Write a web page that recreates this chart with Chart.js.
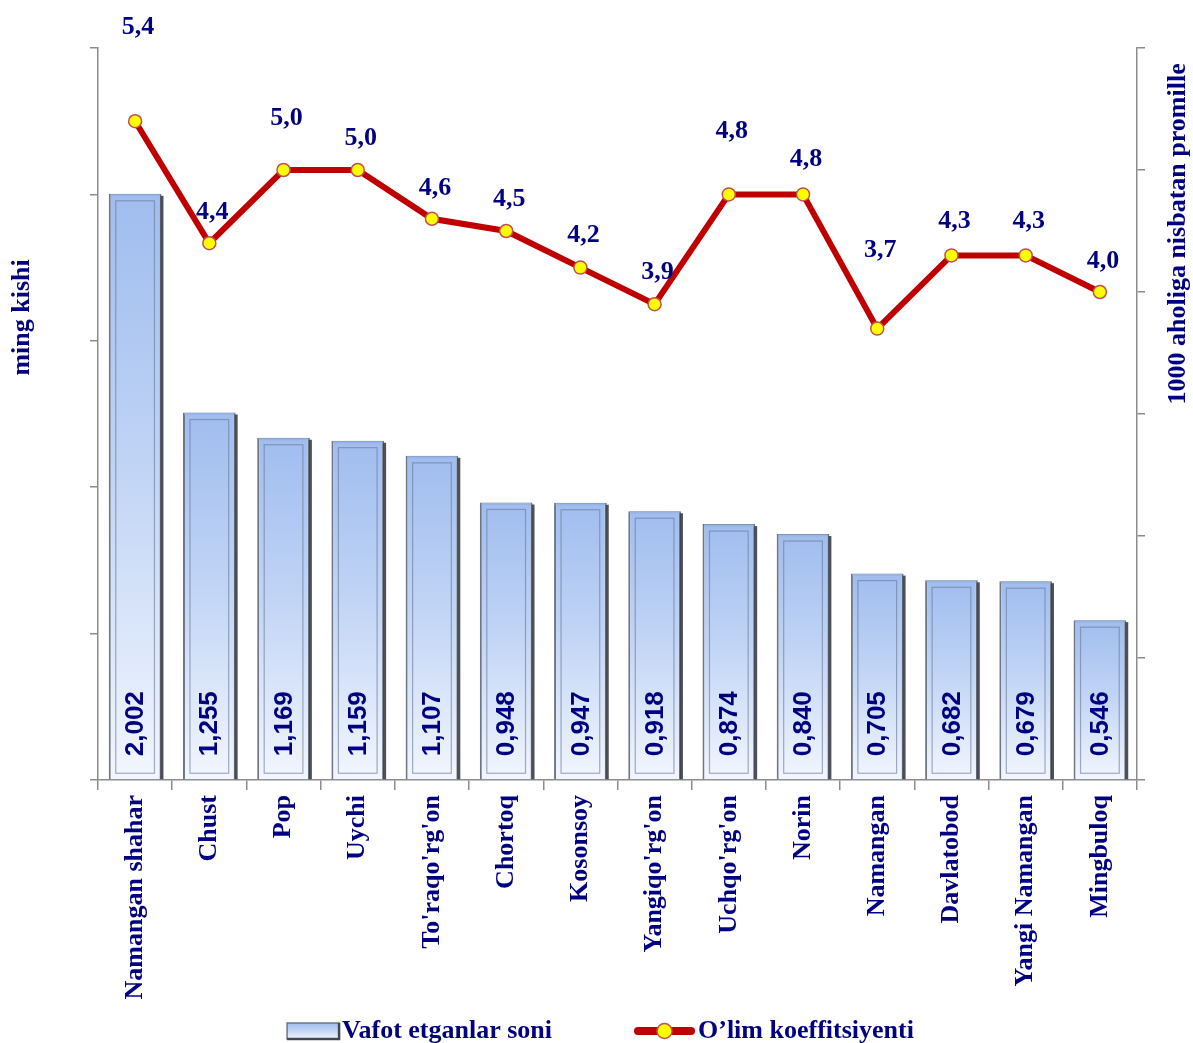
<!DOCTYPE html>
<html><head><meta charset="utf-8">
<script src="https://cdn.jsdelivr.net/npm/chart.js@4.4.0/dist/chart.umd.min.js"></script>
<style>html,body{margin:0;padding:0;background:#fff;overflow:hidden}</style>
</head><body>
<canvas id="c" width="1193" height="1043"></canvas>
<script>
const categories = ["Namangan shahar","Chust","Pop","Uychi","To'raqo'rg'on","Chortoq","Kosonsoy","Yangiqo'rg'on","Uchqo'rg'on","Norin","Namangan","Davlatobod","Yangi Namangan","Mingbuloq"];
const deaths = [2.002,1.255,1.169,1.159,1.107,0.948,0.947,0.918,0.874,0.840,0.705,0.682,0.679,0.546];
const mortalityRate = [5.4,4.4,5.0,5.0,4.6,4.5,4.2,3.9,4.8,4.8,3.7,4.3,4.3,4.0];
const leftAxis = {min:0, max:2.5, step:0.5};
const rightAxis = {min:0, max:6, step:1};
const seriesNames = ["Vafot etganlar soni","O\u2019lim koeffitsiyenti"];
const axisTitles = ["ming kishi","1000 aholiga nisbatan promille"];
const rateLabelOffsets = [94,31,52,32,31,32,32,32,63,35,78,34,34,31];

const NAVY = '#000080';
const SERIF = "'Liberation Serif','Times New Roman',serif";
const SANS = "'Liberation Sans',Arial,sans-serif";
const AXIS_GRAY = '#8c8c8c';

function barGradient(ctx, top, bot){
  const g = ctx.createLinearGradient(0, top, 0, bot);
  g.addColorStop(0,'#a0bdef');
  g.addColorStop(0.45,'#bfd3f5');
  g.addColorStop(1,'#f2f6fe');
  return g;
}

const decor = {
  id:'decor',
  afterDatasetDraw(chart, args){
    if (args.index !== 0) return;
    const ctx = chart.ctx;
    const meta = chart.getDatasetMeta(0);
    ctx.save();
    meta.data.forEach((bar, i) => {
      const {x, y, base, width} = bar.getProps(['x','y','base','width'], true);
      const l = x - width/2, r = x + width/2;
      // dark shadow edge on right
      ctx.strokeStyle = 'rgba(60,62,70,0.9)';
      ctx.lineWidth = 3;
      ctx.beginPath(); ctx.moveTo(r+0.5, y+2); ctx.lineTo(r+0.5, base); ctx.stroke();
      // light top edge
      ctx.strokeStyle = 'rgba(150,180,230,1)';
      ctx.lineWidth = 2;
      ctx.beginPath(); ctx.moveTo(l+1.5, y+1.5); ctx.lineTo(r-1.5, y+1.5); ctx.stroke();
      // inner bevel frame
      const ins = 7;
      ctx.strokeStyle = 'rgba(105,120,145,0.6)';
      ctx.lineWidth = 1.2;
      ctx.strokeRect(l+ins, y+ins, width-2*ins, base-y-2*ins+1);
      // value label
      ctx.save();
      ctx.translate(x, base-23);
      ctx.rotate(-Math.PI/2);
      ctx.font = "bold 26px " + SANS;
      ctx.fillStyle = NAVY;
      ctx.textAlign = 'left';
      ctx.textBaseline = 'middle';
      ctx.fillText(deaths[i].toFixed(3).replace('.',','), 0, 1);
      ctx.restore();
    });
    ctx.restore();
  },
  afterDatasetsDraw(chart){
    const ctx = chart.ctx;
    const meta = chart.getDatasetMeta(1);
    ctx.save();
    ctx.font = "bold 26px " + SERIF;
    ctx.fillStyle = NAVY;
    ctx.textAlign = 'center';
    ctx.textBaseline = 'middle';
    meta.data.forEach((pt, i) => {
      ctx.fillText(mortalityRate[i].toFixed(1).replace('.',','), pt.x + 3, pt.y - rateLabelOffsets[i]);
    });
    ctx.restore();
  },
  afterDraw(chart){
    const ctx = chart.ctx;
    const ca = chart.chartArea;
    ctx.save();
    ctx.font = "bold 26px " + SERIF;
    ctx.fillStyle = NAVY;
    ctx.textAlign = 'center';
    ctx.textBaseline = 'middle';
    // axis titles
    ctx.save();
    ctx.translate(22, ca.top + (ca.bottom-ca.top)*0.368);
    ctx.rotate(-Math.PI/2);
    ctx.fillText(axisTitles[0], 0, 0);
    ctx.restore();
    ctx.save();
    ctx.translate(1178, ca.top + (ca.bottom-ca.top)*0.254);
    ctx.rotate(-Math.PI/2);
    ctx.fillText(axisTitles[1], 0, 0);
    ctx.restore();
    // legend
    const w1 = ctx.measureText(seriesNames[0]).width;
    const w2 = ctx.measureText(seriesNames[1]).width;
    const sw1 = 52, sw2 = 61, g = 3, gap = 82;
    const total = sw1 + g + w1 + gap + sw2 + g + w2;
    let x = chart.width/2 + 4 - total/2;
    const cy = 1031;
    ctx.fillStyle = barGradient(ctx, cy-8, cy+8);
    ctx.fillRect(x, cy-8, sw1, 16);
    ctx.strokeStyle = '#6e7685';
    ctx.lineWidth = 1.5;
    ctx.strokeRect(x, cy-8, sw1, 16);
    ctx.strokeStyle = 'rgba(60,62,70,0.9)';
    ctx.lineWidth = 2.5;
    ctx.beginPath(); ctx.moveTo(x, cy+8); ctx.lineTo(x+sw1, cy+8); ctx.lineTo(x+sw1, cy-8); ctx.stroke();
    x += sw1 + g;
    ctx.fillStyle = NAVY;
    ctx.textAlign = 'left';
    ctx.fillText(seriesNames[0], x, cy);
    x += w1 + gap;
    ctx.strokeStyle = '#c00000';
    ctx.lineWidth = 8;
    ctx.lineCap = 'round';
    ctx.beginPath(); ctx.moveTo(x+4, cy); ctx.lineTo(x+sw2-4, cy); ctx.stroke();
    ctx.beginPath(); ctx.arc(x+sw2/2, cy, 7.5, 0, Math.PI*2);
    ctx.fillStyle = '#ffff00'; ctx.fill();
    ctx.lineWidth = 1.5; ctx.strokeStyle = '#c0504d'; ctx.stroke();
    x += sw2 + g;
    ctx.fillStyle = NAVY;
    ctx.fillText(seriesNames[1], x, cy);
    ctx.restore();
  }
};

new Chart(document.getElementById('c'), {
  type: 'bar',
  data: {
    labels: categories,
    datasets: [
      {
        type: 'bar',
        label: seriesNames[0],
        data: deaths,
        yAxisID: 'y',
        order: 1,
        backgroundColor: (c) => {
          const chart = c.chart;
          if (!chart.chartArea || c.type !== 'data') return '#b5cbf2';
          const ys = chart.scales.y;
          return barGradient(chart.ctx, ys.getPixelForValue(c.raw), ys.getPixelForValue(0));
        },
        borderColor: '#6e7685',
        borderWidth: 2,
        barPercentage: 0.71,
        categoryPercentage: 1.0
      },
      {
        type: 'line',
        label: seriesNames[1],
        data: mortalityRate,
        yAxisID: 'y1',
        order: 0,
        borderColor: '#c00000',
        borderWidth: 6,
        tension: 0,
        pointRadius: 6.5,
        pointBackgroundColor: '#ffff00',
        pointBorderColor: '#c0504d',
        pointBorderWidth: 1.5,
        clip: false
      }
    ]
  },
  options: {
    responsive: false,
    animation: false,
    layout: { padding: { left: 90, right: 48, top: 48, bottom: 38 } },
    plugins: { legend: { display: false }, tooltip: { enabled: false } },
    scales: {
      x: {
        offset: true,
        grid: { offset: true, drawOnChartArea: false, drawTicks: true, tickLength: 10, color: AXIS_GRAY, lineWidth: 1.5 },
        border: { display: true, color: AXIS_GRAY, width: 1.5 },
        ticks: { autoSkip: false, minRotation: 90, maxRotation: 90, padding: 5, color: NAVY, font: { family: SERIF, size: 26, weight: 'bold' } },
        afterFit(s){ s.height = 225; }
      },
      y: {
        position: 'left',
        min: leftAxis.min, max: leftAxis.max,
        ticks: { stepSize: leftAxis.step, display: false },
        grid: { drawOnChartArea: false, drawTicks: true, tickLength: 8, color: AXIS_GRAY, lineWidth: 1.5 },
        border: { display: true, color: AXIS_GRAY, width: 1.5 },
        afterFit(s){ s.width = 8; }
      },
      y1: {
        position: 'right',
        min: rightAxis.min, max: rightAxis.max,
        ticks: { stepSize: rightAxis.step, display: false },
        grid: { drawOnChartArea: false, drawTicks: true, tickLength: 8, color: AXIS_GRAY, lineWidth: 1.5 },
        border: { display: true, color: AXIS_GRAY, width: 1.5 },
        afterFit(s){ s.width = 8; }
      }
    }
  },
  plugins: [decor]
});
</script>
</body></html>
